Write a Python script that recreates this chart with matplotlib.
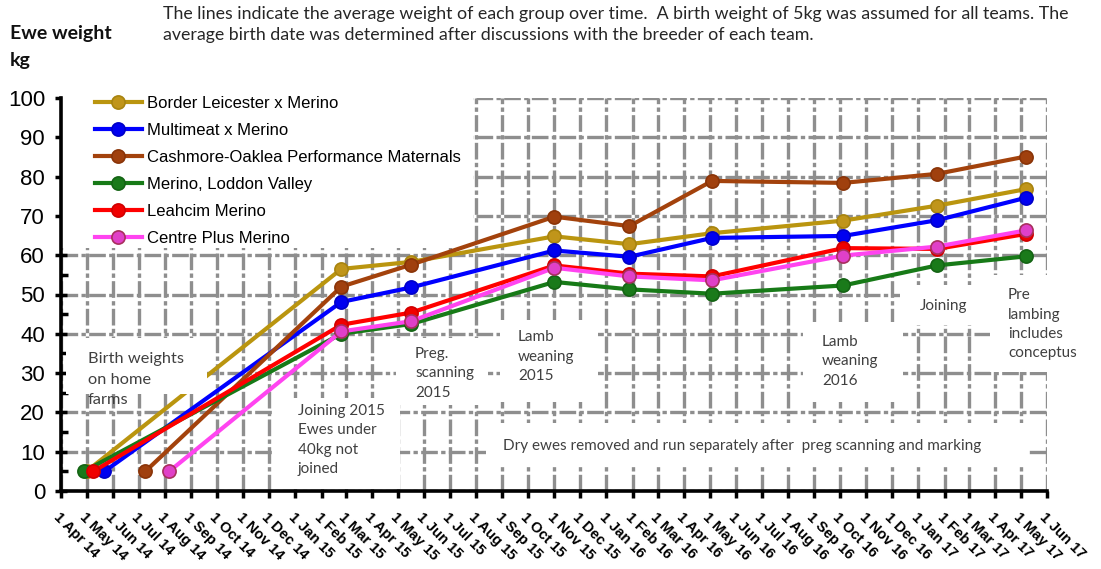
import matplotlib
matplotlib.use("Agg")
import matplotlib.pyplot as plt
import matplotlib.dates as mdates
from matplotlib.ticker import MultipleLocator
from matplotlib.patches import Rectangle
from datetime import date

W, H = 1101, 569

# ---- data ----
groups = ["Border Leicester x Merino", "Multimeat x Merino",
          "Cashmore-Oaklea Performance Maternals", "Merino, Loddon Valley",
          "Leahcim Merino", "Centre Plus Merino"]

# average birth date of each team (birth weight assumed 5 kg)
birth_dates = [date(2014, 5, 1), date(2014, 5, 22), date(2014, 7, 9),
               date(2014, 4, 28), date(2014, 5, 9), date(2014, 8, 6)]
birth_weight = 5

# weighing dates, shared by all teams
weigh_dates = [date(2015, 2, 24), date(2015, 5, 17), date(2015, 11, 1),
               date(2016, 1, 28), date(2016, 5, 4), date(2016, 10, 5),
               date(2017, 1, 23), date(2017, 5, 7)]

border_leicester = [56.5, 58.3, 64.8, 62.8, 65.6, 68.8, 72.6, 76.8]
multimeat = [48.1, 51.8, 61.2, 59.6, 64.4, 64.9, 68.9, 74.6]
cashmore = [52.0, 57.6, 69.8, 67.4, 78.9, 78.4, 80.7, 85.1]
loddon = [40.0, 42.5, 53.2, 51.3, 50.2, 52.3, 57.4, 59.7]
leahcim = [42.3, 45.4, 57.4, 55.3, 54.6, 61.8, 61.6, 65.4]
centre_plus = [40.6, 43.2, 56.8, 54.6, 53.6, 59.9, 62.2, 66.3]

weights = [border_leicester, multimeat, cashmore, loddon, leahcim, centre_plus]

line_colors = ["#BA950F", "#0000FF", "#A3420C", "#177A17", "#FF0000", "#FF44F0"]
face_colors = ["#C0951A", "#0000F0", "#A0400E", "#1A7A1A", "#F00000", "#E040C8"]
edge_colors = ["#A8840F", "#0000C8", "#8A3408", "#146414", "#D00000", "#A8305E"]

# ---- figure ----
fig = plt.figure(figsize=(W / 100, H / 100), dpi=100)
ax = fig.add_axes([61 / W, 1 - 491 / H, (1047 - 61) / W, (491 - 98) / H])


def fig_box(x0, y0, x1, y1):
    # white cover box given in pixel coords from the top-left corner
    return (x0 / W, 1 - y1 / H), (x1 - x0) / W, (y1 - y0) / H


for name, bd, w, lc, fc, ec in zip(groups, birth_dates, weights,
                                   line_colors, face_colors, edge_colors):
    ax.plot([bd] + weigh_dates, [birth_weight] + w, color=lc, lw=3.0,
            marker="o", ms=9.5, mfc=fc, mec=ec, mew=1.2, label=name, zorder=3)

ax.set_xlim(date(2014, 4, 1), date(2017, 6, 1))
ax.set_ylim(0, 100)

ax.xaxis.set_major_locator(mdates.MonthLocator())
ax.xaxis.set_major_formatter(mdates.DateFormatter("1 %b %y"))
ax.yaxis.set_major_locator(MultipleLocator(10))
ax.yaxis.set_minor_locator(MultipleLocator(5))

ax.set_axisbelow(True)
ax.grid(True, which="major", color="#8e8e8e", lw=2.4,
        ls=(0, (5, 1.0, 1.3, 1.0)))

for s in ["top", "right"]:
    ax.spines[s].set_visible(False)
for s in ["left", "bottom"]:
    ax.spines[s].set_linewidth(2.6)
    ax.spines[s].set_color("black")
    ax.spines[s].set_zorder(6)

ax.tick_params(axis="y", which="major", direction="inout", length=9,
               width=2.5, pad=7, labelsize=16)
ax.tick_params(axis="y", which="minor", direction="in", length=5, width=2.5)
ax.tick_params(axis="x", which="major", direction="out", length=5,
               width=2.5, pad=9)
for lbl in ax.get_yticklabels():
    lbl.set_fontfamily("Liberation Sans")
plt.setp(ax.get_xticklabels(), rotation=-45, ha="left",
         rotation_mode="anchor", fontweight="bold", fontsize=10.5,
         fontfamily="Liberation Sans")

# white text boxes sitting over the grid
boxes = [
    (62, 85, 473, 248),     # legend area
    (272, 398, 400, 489),   # joining 2015
    (396, 338, 488, 405),   # preg scanning
    (500, 320, 598, 402),   # lamb weaning 2015
    (486, 423, 1028, 464),  # dry ewes
    (803, 322, 903, 402),   # lamb weaning 2016
    (900, 285, 990, 325),   # joining
    (990, 275, 1095, 372),  # pre lambing
]
for b in boxes:
    xy, bw, bh = fig_box(*b)
    ax.add_patch(Rectangle(xy, bw, bh, transform=fig.transFigure,
                           facecolor="white", edgecolor="none",
                           clip_on=False, zorder=1))
# the birth weights box sits on top of the lines
xy, bw, bh = fig_box(66, 338, 207, 394)
ax.add_patch(Rectangle(xy, bw, bh, transform=fig.transFigure,
                       facecolor="white", edgecolor="none",
                       clip_on=False, zorder=4))

leg = ax.legend(loc="upper left", bbox_to_anchor=(95 / W, 1 - 96 / H),
                bbox_transform=fig.transFigure, frameon=False,
                prop={"family": "Liberation Sans", "size": 12},
                handlelength=2.8, handletextpad=0.3, labelspacing=0.72,
                borderpad=0, borderaxespad=0)
leg.set_zorder(7)

# notes on the chart
note_font = dict(family="Lato", color="#404040")
notes = [
    (88, 352, "Birth weights\non home\nfarms", 11.8, 1.6),
    (298, 404, "Joining 2015\nEwes under\n40kg not\njoined", 11, 1.5),
    (415, 347, "Preg.\nscanning\n2015", 11, 1.5),
    (518, 330, "Lamb\nweaning\n2015", 11, 1.5),
    (503, 439, "Dry ewes removed and run separately after  preg scanning and marking", 11, 1.5),
    (822, 335, "Lamb\nweaning\n2016", 11, 1.5),
    (920, 299, "Joining", 11, 1.5),
    (1008, 288, "Pre\nlambing\nincludes\nconceptus", 11, 1.5),
]
for x, y, s, size, spacing in notes:
    fig.text(x / W, 1 - y / H, s, va="top", ha="left", linespacing=spacing,
             size=size, zorder=8, **note_font)

fig.text(163 / W, 1 - 6 / H,
         "The lines indicate the average weight of each group over time.  "
         "A birth weight of 5kg was assumed for all teams. The",
         va="top", ha="left", family="Lato", size=12.8, color="#262626")
fig.text(163 / W, 1 - 27 / H,
         "average birth date was determined after discussions with the "
         "breeder of each team.",
         va="top", ha="left", family="Lato", size=12.8, color="#262626")

fig.text(10 / W, 1 - 25 / H, "Ewe weight", va="top", ha="left",
         family="Lato", weight="bold", size=14, color="#111111")
fig.text(10 / W, 1 - 52 / H, "kg", va="top", ha="left",
         family="Lato", weight="bold", size=14, color="#111111")

fig.savefig("out.png", dpi=100)
